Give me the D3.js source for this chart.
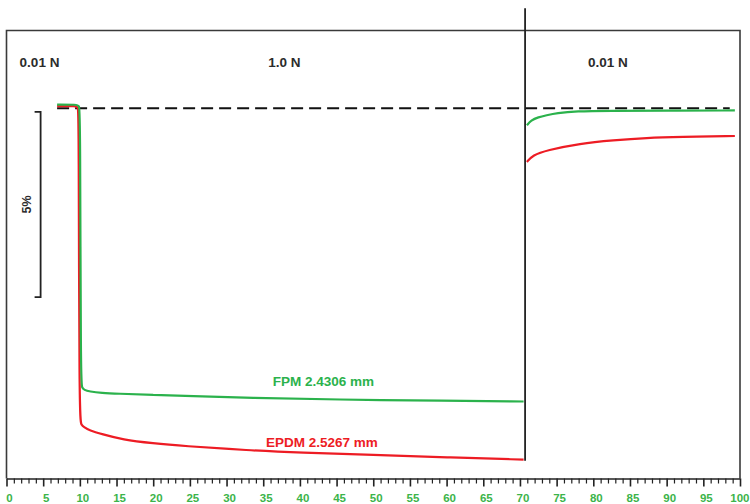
<!DOCTYPE html>
<html>
<head>
<meta charset="utf-8">
<script src="https://cdn.jsdelivr.net/npm/d3@7"></script>
<style>
  html, body { margin: 0; padding: 0; background: #fff; }
  svg { display: block; font-family: "Liberation Sans", Arial, Helvetica, sans-serif; }
</style>
</head>
<body>
<svg id="chart" width="750" height="504"></svg>
<script>
// ---- data ----
const xTicksMajor = [0, 5, 10, 15, 20, 25, 30, 35, 40, 45, 50, 55, 60, 65, 70, 75, 80, 85, 90, 95, 100];
const phaseLabels = ["0.01 N", "1.0 N", "0.01 N"];
const phaseLabelX = [4.5, 37.9, 82.0];
const phaseBoundary = 70.7;

// FPM (green): time vs. thickness change (%)
const fpmLoadT = [6.9, 9.6, 9.9, 10.05, 10.12, 10.3, 10.6, 11.3, 13, 15, 20, 25, 33, 45, 60, 70.5];
const fpmLoadV = [0.10, 0.10, 0.07, -0.10, -7.40, -7.55, -7.61, -7.65, -7.69, -7.71, -7.74, -7.77, -7.82, -7.87, -7.90, -7.92];
const fpmRecT = [70.95, 71.5, 72.5, 73.6, 75, 77.7, 82, 90, 99.3];
const fpmRecV = [-0.46, -0.33, -0.24, -0.19, -0.13, -0.08, -0.07, -0.065, -0.06];

// EPDM (red)
const epdmLoadT = [6.9, 9.5, 9.75, 9.85, 9.92, 10.2, 10.6, 11.3, 13, 15.8, 20, 24, 33, 40, 50, 60, 70.5];
const epdmLoadV = [0.06, 0.06, 0.03, -0.20, -8.40, -8.55, -8.62, -8.70, -8.80, -8.95, -9.05, -9.12, -9.24, -9.30, -9.36, -9.43, -9.49];
const epdmRecT = [70.95, 71.76, 73.6, 78.2, 82.7, 87.3, 91.8, 99.3];
const epdmRecV = [-1.45, -1.27, -1.135, -0.95, -0.865, -0.80, -0.775, -0.75];

const seriesNames = ["FPM 2.4306 mm", "EPDM 2.5267 mm"];
const labelPos = [[43.2, -7.5], [43.0, -9.15]];
const baselineRange = [6.9, 98.6];
const scaleBar = [-0.1, -5.1];
const scaleBarLabel = "5%";

// ---- drawing ----
const svg = d3.select("#chart");
const x = d3.scaleLinear().domain([0, 100]).range([6.5, 740]);
const y = d3.scaleLinear().domain([-10, 2.1]).range([478.5, 30.5]);

const green = "#2bb24c", red = "#ed1c24", dark = "#2b2b2b";

// frame
svg.append("path")
  .attr("d", `M${x(0)},${y(-10)} V${y(2.1)} H${x(100)} V${y(-10)}`)
  .attr("fill", "none").attr("stroke", "#3a3a3a").attr("stroke-width", 1.6);

// bottom axis
const axis = d3.axisBottom(x)
  .tickValues(d3.range(0, 101, 1))
  .tickSize(0)
  .tickFormat("");
const gAxis = svg.append("g").attr("transform", `translate(0,${y(-10)})`).call(axis);
gAxis.select(".domain").attr("stroke", "#222").attr("stroke-width", 1.6);
gAxis.selectAll(".tick line")
  .attr("y2", d => d % 5 === 0 ? 8 : 5)
  .attr("stroke", "#222").attr("stroke-width", d => d % 5 === 0 ? 1.6 : 1.2);
const lastTick = xTicksMajor[xTicksMajor.length - 1];
svg.append("g").selectAll("text").data(xTicksMajor).join("text")
  .attr("x", d => d === lastTick ? 749.5 : x(d) + 3).attr("y", 502)
  .attr("text-anchor", d => d === lastTick ? "end" : "middle")
  .attr("font-size", 11.5).attr("font-weight", "bold")
  .attr("fill", "#3cb44a")
  .text(d => d);

// phase labels
svg.append("g").selectAll("text").data(phaseLabels).join("text")
  .attr("x", (d, i) => x(phaseLabelX[i])).attr("y", 66.5)
  .attr("text-anchor", "middle")
  .attr("font-size", 13.5).attr("font-weight", "bold")
  .attr("fill", dark)
  .text(d => d);

// scale bar (5%)
const bx = x(4.65);
svg.append("path")
  .attr("d", `M${bx - 6},${y(scaleBar[0])} H${bx} V${y(scaleBar[1])} H${bx - 6}`)
  .attr("fill", "none").attr("stroke", "#222").attr("stroke-width", 1.8);
svg.append("text")
  .attr("transform", `translate(${bx - 10},${y((scaleBar[0] + scaleBar[1]) / 2)}) rotate(-90)`)
  .attr("text-anchor", "middle")
  .attr("font-size", 12.5).attr("font-weight", "bold")
  .attr("fill", dark)
  .text(scaleBarLabel);

// baseline (dashed)
svg.append("line")
  .attr("x1", x(baselineRange[0])).attr("x2", x(baselineRange[1]))
  .attr("y1", y(0)).attr("y2", y(0))
  .attr("stroke", "#111").attr("stroke-width", 2)
  .attr("stroke-dasharray", "12,6");

// curves
function drawSmooth(ts, vs, color) {
  svg.append("path")
    .datum(ts.map((t, i) => [t, vs[i]]))
    .attr("d", d3.line().x(d => x(d[0])).y(d => y(d[1])).curve(d3.curveBasis))
    .attr("fill", "none").attr("stroke", color).attr("stroke-width", 2.2)
    .attr("stroke-linejoin", "round");
}
drawSmooth(epdmLoadT, epdmLoadV, red);
drawSmooth(fpmLoadT, fpmLoadV, green);
drawSmooth(epdmRecT, epdmRecV, red);
drawSmooth(fpmRecT, fpmRecV, green);

// phase boundary
svg.append("line")
  .attr("x1", x(phaseBoundary)).attr("x2", x(phaseBoundary))
  .attr("y1", y(2.7)).attr("y2", y(-9.52))
  .attr("stroke", "#222").attr("stroke-width", 1.8);

// series labels
svg.append("g").selectAll("text").data(seriesNames).join("text")
  .attr("x", (d, i) => x(labelPos[i][0])).attr("y", (d, i) => y(labelPos[i][1]))
  .attr("text-anchor", "middle")
  .attr("font-size", 13.5).attr("font-weight", "bold")
  .attr("fill", (d, i) => i === 0 ? green : red)
  .text(d => d);
</script>
</body>
</html>
